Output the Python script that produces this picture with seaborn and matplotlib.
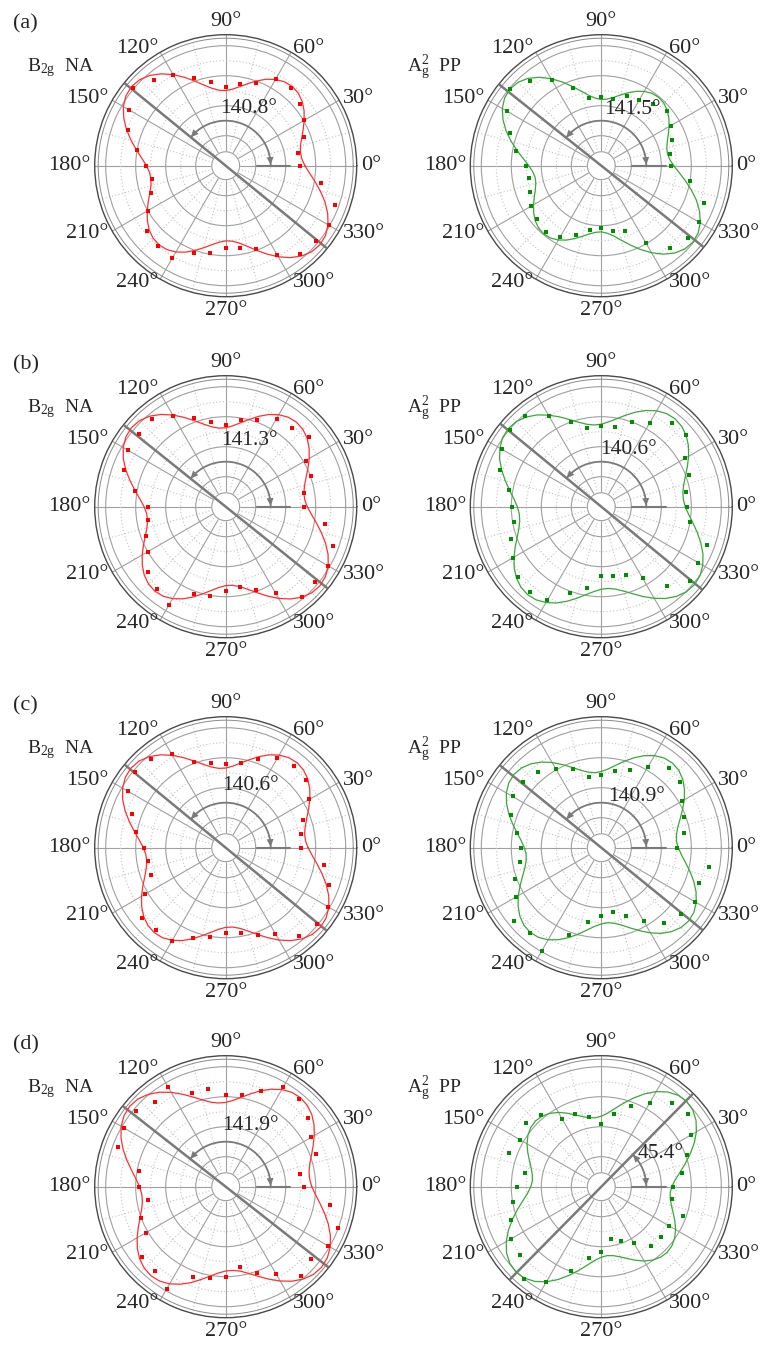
import numpy as np
import matplotlib
matplotlib.use("Agg")
import matplotlib.pyplot as plt
import seaborn as sns

# ---------------- data (radius in grid units) ----------------
angles_deg = list(range(0, 360, 10))      # measured points every 10 deg
fit_angles_deg = list(range(0, 180, 5))   # fitted curve (period 180 deg), every 5 deg

aL_pts = [4.96,4.87,5.56,6.05,6.45,6.75,6.71,5.88,5.53,5.27,5.67,6.19,6.97,7.45,8.05,7.48,6.91,6.00,
          5.31,5.01,5.31,6.00,6.82,7.02,7.13,6.19,5.93,5.49,5.57,5.92,6.87,7.71,7.82,7.96,7.73,6.46]
aL_fit = [5.28,5.10,5.06,5.16,5.39,5.70,6.04,6.38,6.66,6.84,6.90,6.83,6.64,6.36,6.01,5.66,5.35,5.12,
          5.01,5.05,5.24,5.56,6.00,6.50,7.01,7.48,7.86,8.11,8.20,8.12,7.88,7.50,7.04,6.53,6.04,5.61]

aR_pts = [4.62,4.64,5.04,5.34,5.71,5.41,5.08,4.95,4.54,4.58,4.60,5.48,6.56,7.41,7.95,7.24,6.47,5.75,
          5.02,4.89,5.09,5.38,5.57,5.76,5.52,4.91,4.35,4.13,4.41,4.66,5.98,7.15,7.53,7.53,7.29,6.00]
aR_fit = [4.83,4.59,4.48,4.52,4.68,4.93,5.22,5.50,5.74,5.90,5.95,5.89,5.72,5.47,5.17,4.87,4.62,4.46,
          4.41,4.52,4.76,5.14,5.62,6.16,6.70,7.20,7.60,7.86,7.95,7.87,7.62,7.23,6.75,6.21,5.68,5.21]

bL_pts = [5.22,5.31,6.04,6.16,7.24,6.89,6.78,6.12,5.89,5.42,5.73,6.26,7.00,7.67,7.57,7.50,7.19,6.14,
          5.20,5.26,5.64,5.98,6.75,7.15,7.53,6.22,6.02,5.62,5.46,5.88,6.66,7.87,7.80,7.87,7.60,6.72]
bL_fit = [5.44,5.29,5.29,5.44,5.70,6.05,6.43,6.79,7.09,7.28,7.35,7.28,7.08,6.78,6.41,6.02,5.68,5.41,
          5.26,5.26,5.41,5.70,6.10,6.57,7.06,7.51,7.88,8.12,8.20,8.12,7.89,7.53,7.08,6.59,6.13,5.73]

bR_pts = [5.73,5.75,6.21,6.48,7.41,7.32,6.47,6.02,5.41,5.40,5.34,6.00,7.00,7.92,7.96,7.67,7.17,6.22,
          5.96,5.91,6.38,6.80,7.24,7.43,7.20,6.15,5.53,4.60,4.67,4.87,5.52,6.86,7.68,7.44,7.49,5.98]
bR_fit = [5.60,5.49,5.52,5.69,5.97,6.33,6.72,7.09,7.39,7.58,7.65,7.58,7.38,7.08,6.71,6.32,5.96,5.68,
          5.50,5.47,5.58,5.83,6.18,6.61,7.05,7.47,7.80,8.02,8.10,8.03,7.81,7.48,7.06,6.62,6.20,5.84]

cL_pts = [5.05,5.08,5.45,6.43,7.03,7.08,6.87,6.26,5.75,5.58,5.76,6.10,7.22,7.70,7.89,7.55,6.66,6.10,
          5.46,5.24,5.28,6.21,7.26,7.19,7.16,6.38,6.07,5.71,5.79,6.20,6.61,7.65,7.95,7.85,7.31,6.64]
cL_fit = [5.49,5.34,5.34,5.49,5.75,6.10,6.48,6.84,7.14,7.33,7.40,7.33,7.13,6.83,6.46,6.07,5.73,5.46,
          5.31,5.31,5.46,5.75,6.15,6.62,7.11,7.56,7.93,8.17,8.25,8.17,7.94,7.58,7.13,6.64,6.18,5.78]

cR_pts = [5.07,5.60,5.90,6.20,6.83,6.97,6.23,5.53,5.19,4.84,4.80,5.56,6.07,6.57,6.83,6.83,6.43,5.74,
          5.33,5.48,6.12,6.53,7.59,7.39,7.92,6.20,5.02,4.56,4.34,4.84,5.65,6.54,6.90,7.25,6.96,7.30]
cR_fit = [5.13,5.03,5.09,5.28,5.59,5.97,6.39,6.77,7.09,7.30,7.37,7.30,7.09,6.77,6.38,5.97,5.58,5.27,
          5.08,5.02,5.12,5.35,5.70,6.11,6.56,6.97,7.30,7.52,7.60,7.53,7.31,6.97,6.56,6.12,5.70,5.36]

dL_pts = [5.22,5.04,6.38,6.57,7.16,7.65,7.67,6.81,6.20,6.11,6.63,6.66,7.64,7.34,7.84,7.80,7.66,5.86,
          5.76,5.24,6.03,6.11,7.30,7.32,7.84,6.42,6.16,6.04,5.46,6.12,6.75,7.76,7.46,7.89,7.97,7.06]
dL_fit = [5.74,5.62,5.64,5.80,6.08,6.43,6.82,7.19,7.49,7.68,7.75,7.68,7.48,7.17,6.81,6.41,6.06,5.78,
          5.62,5.60,5.72,5.99,6.36,6.80,7.26,7.69,8.04,8.27,8.35,8.27,8.05,7.70,7.28,6.82,6.38,6.01]

dR_pts = [4.76,5.44,6.10,6.92,7.57,7.29,6.48,5.72,4.92,4.16,4.74,5.14,5.20,6.24,6.58,6.29,6.54,5.18,
          5.64,5.96,6.42,6.92,7.10,8.00,7.36,5.96,4.86,4.36,3.56,3.83,4.36,5.13,5.20,5.22,5.80,4.80]
dR_fit = [4.70,4.93,5.30,5.77,6.29,6.83,7.32,7.71,7.96,8.05,7.96,7.71,7.32,6.83,6.29,5.77,5.30,4.93,
          4.70,4.61,4.67,4.84,5.10,5.41,5.72,5.97,6.14,6.20,6.14,5.97,5.72,5.41,5.10,4.84,4.67,4.61]

axis_angles = [140.8, 141.5, 141.3, 140.6, 140.6, 140.9, 141.9, 45.4]
panel_letters = ["(a)", "(b)", "(c)", "(d)"]
left_title = r"B$\mathregular{_{2g}}$  NA"
right_title = r"A$\mathregular{_g^2}$  PP"
theta_tick_labels = [f"{d}\u00b0" for d in range(0, 360, 30)]

pts_list = [aL_pts, aR_pts, bL_pts, bR_pts, cL_pts, cR_pts, dL_pts, dR_pts]
fit_list = [aL_fit, aR_fit, bL_fit, bR_fit, cL_fit, cR_fit, dL_fit, dR_fit]

# ---------------- layout / style ----------------
W, H = 768, 1347
R_PX = 131.0
UNIT = 15.0
RMAX = R_PX / UNIT
col_cx = [225.7, 601.3]
row_cy = [165.7, 506.7, 847.7, 1186.7]
label_off = [(22.6, -57.6), (31, -55.7), (23.3, -66.7), (26.7, -57.7),
             (24.5, -62.7), (35.3, -51), (25, -61.7), (59.3, -33.3)]

sns.set_style("white")
plt.rcParams['font.family'] = 'serif'
plt.rcParams['font.serif'] = ['Liberation Serif', 'Times New Roman', 'DejaVu Serif']
plt.rcParams['mathtext.fontset'] = 'custom'
plt.rcParams['mathtext.rm'] = 'Liberation Serif'
plt.rcParams['mathtext.it'] = 'Liberation Serif:italic'

RED_PT, RED_LN = '#ff0000', '#ff3030'
GRN_PT, GRN_LN = '#008f00', '#3aa83a'
GRAY = '#7a7a7a'

fig = plt.figure(figsize=(W / 100, H / 100), dpi=100)

curve_theta = np.deg2rad(fit_angles_deg + [a + 180 for a in fit_angles_deg] + [360])
for i in range(8):
    row, col = divmod(i, 2)
    cx, cy = col_cx[col], row_cy[row]
    ax = fig.add_axes([(cx - R_PX) / W, (H - cy - R_PX) / H, 2 * R_PX / W, 2 * R_PX / H],
                      projection='polar')
    pcol, lcol = (RED_PT, RED_LN) if col == 0 else (GRN_PT, GRN_LN)

    theta = np.deg2rad(angles_deg)
    fit = fit_list[i]
    curve_r = list(fit) + list(fit) + [fit[0]]
    sns.lineplot(x=curve_theta, y=curve_r, ax=ax, sort=False, estimator=None,
                 color=lcol, lw=0.9, zorder=4)
    sns.scatterplot(x=theta, y=pts_list[i], ax=ax, marker='s', s=8, color=pcol,
                    linewidth=0, zorder=5)

    ax.set_ylim(0, RMAX)
    ax.set_xlabel('')
    ax.set_ylabel('')
    ax.set_axisbelow(True)
    ax.set_xticks(np.deg2rad(np.arange(0, 360, 30)))
    ax.set_xticks(np.deg2rad(np.arange(15, 360, 30)), minor=True)
    ax.set_xticklabels([])
    ax.set_yticks([2, 4, 6, 8])
    ax.set_yticklabels([])
    ax.set_yticks([3, 5, 7], minor=True)
    ax.set_yticklabels([], minor=True)
    ax.tick_params(axis='both', which='both', length=0)
    ax.grid(which='major', color='#a0a0a0', lw=0.8, ls='-')
    ax.grid(which='minor', color='#c4c4c4', lw=0.8, ls=(0, (1, 2)))
    ax.spines['polar'].set_color('#4a4a4a')
    ax.spines['polar'].set_linewidth(1.0)

    circ = np.linspace(0, 2 * np.pi, 181)
    # inner edge of the double outer ring
    ax.plot(circ, np.full_like(circ, (R_PX - 3.5) / UNIT), color='#8a8a8a', lw=0.7, zorder=1.1)
    # central hole
    ax.fill(circ, np.full_like(circ, 0.93), color='white', zorder=1)
    ax.plot(circ, np.full_like(circ, 0.93), color='#a0a0a0', lw=0.8, zorder=1.1)

    # orientation line
    phi = np.deg2rad(axis_angles[i])
    ax.plot([phi, phi, phi + np.pi], [RMAX, 0, RMAX], color=GRAY, lw=1.8, zorder=3,
            solid_capstyle='butt')
    # angle arc with arrows
    arc = np.linspace(0, phi, 80)
    ax.plot(arc, np.full_like(arc, 3.0), color=GRAY, lw=1.3, zorder=3)
    ax.plot([0, 0], [2.07, 4.3], color=GRAY, lw=1.5, zorder=3)
    head = dict(arrowstyle='-|>,head_length=0.55,head_width=0.25', color=GRAY, lw=0.01,
                shrinkA=0, shrinkB=0)
    ax.annotate('', xy=(phi, 3.0), xytext=(phi - 0.12, 3.0), arrowprops=head, zorder=3)
    ax.annotate('', xy=(0.02, 3.0), xytext=(0.14, 3.0), arrowprops=head, zorder=3)
    dx, dy = label_off[i]
    ax.text(0.5 + dx / (2 * R_PX), 0.5 - dy / (2 * R_PX), f"{axis_angles[i]}\u00b0",
            transform=ax.transAxes, ha='center', va='center', fontsize=15.5, zorder=6)

    # theta labels
    for k, lab in enumerate(theta_tick_labels):
        d = 30 * k
        c = np.cos(np.deg2rad(d))
        ha = 'left' if c > 0.01 else ('right' if c < -0.01 else 'center')
        va = 'bottom' if d == 90 else ('top' if d == 270 else 'center')
        ax.text(np.deg2rad(d), 135 / UNIT, lab, ha=ha, va=va, fontsize=16, clip_on=False)

    # title
    title = left_title if col == 0 else right_title
    tx = 27 if col == 0 else 407
    fig.text(tx / W, 1 - (cy - 98) / H, title, fontsize=14, ha='left', va='center')

for row in range(4):
    fig.text(13 / W, 1 - (row_cy[row] - 142) / H, panel_letters[row], fontsize=16,
             ha='left', va='center')

fig.savefig("out.png", dpi=100)
